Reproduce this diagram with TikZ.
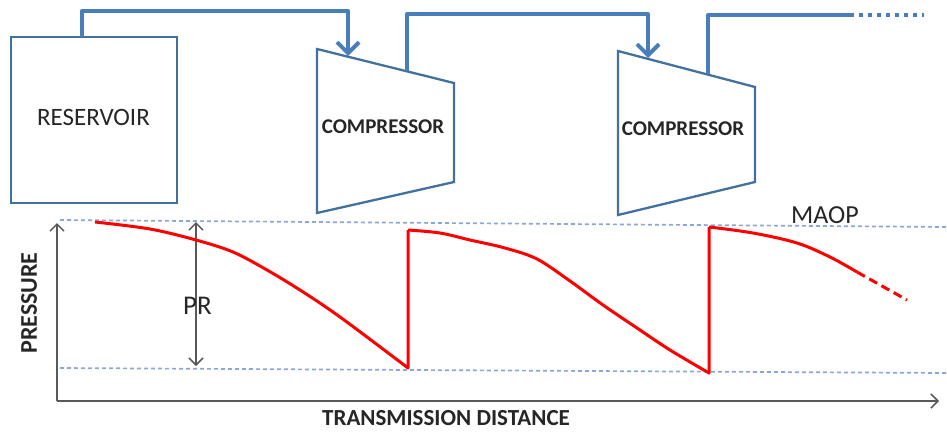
\documentclass[tikz,border=0pt]{standalone}
\usepackage{fontspec}
\setmainfont{Carlito}
\usetikzlibrary{arrows.meta}

\definecolor{pipe}{HTML}{4A7EBB}
\definecolor{outline}{HTML}{41719C}
\definecolor{guide}{HTML}{8AA8D6}
\definecolor{axisgray}{HTML}{595959}
\definecolor{labeltext}{HTML}{262626}

\begin{document}
\begin{tikzpicture}[x=1pt,y=-1pt,
  unitbox/.style={draw=outline, line width=2.3pt, line join=miter},
  pipeline/.style={draw=pipe, line width=4pt, line join=round},
  feed/.style={pipeline, -{Straight Barb[length=11pt,width=22pt]}},
  guideline/.style={draw=guide, line width=1.7pt, dash pattern=on 4pt off 3pt},
  axisline/.style={draw=axisgray, line width=1.5pt},
  openhead/.tip={Straight Barb[length=7pt,width=14pt]},
  profile/.style={draw=red, line width=3pt, line join=round},
  caption/.style={text=labeltext, inner sep=0pt, font=\fontsize{25}{30}\selectfont},
  boldcaption/.style={text=labeltext, inner sep=0pt, font=\fontsize{21}{24}\selectfont\bfseries},
]
\path[use as bounding box] (0,0) rectangle (947,432);

% reservoir
\node[unitbox, minimum width=166pt, minimum height=166pt, inner sep=0pt] (res) at (94,120) {};
\node[caption] (restext) at (93.5,117) {RESERVOIR};

% first compressor
\draw[unitbox] (317,49) -- (454,83) -- (454,182) -- (317,213) -- cycle;
\node[boldcaption] (comp1) at (383,127) {COMPRESSOR};

% second compressor
\draw[unitbox] (618,51) -- (755,87) -- (755,182) -- (618,215) -- cycle;
\node[boldcaption] (comp2) at (683,129) {COMPRESSOR};

% pipe connection points
\coordinate (res-out) at (82,37);
\coordinate (c1-in) at (348,56);
\coordinate (c1-out) at (407,71);
\coordinate (c2-in) at (648,58);
\coordinate (c2-out) at (708,74);
\coordinate (line-end) at (850,15);
\coordinate (line-more) at (924,15);

% pipeline runs
\draw[feed] (res-out) -- (82,11) -- (348,11) -- (c1-in);
\draw[feed] (c1-out) -- (407,14) -- (648,14) -- (c2-in);
\draw[pipeline] (c2-out) -- (708,15) -- (line-end);
\draw[pipeline, dash pattern=on 4pt off 5pt] (line-end) -- (line-more);

% pressure limits
\coordinate (maop-l) at (60,220);
\coordinate (maop-r) at (947,227);
\coordinate (min-l) at (60,368);
\coordinate (min-r) at (947,373);
\draw[guideline] (maop-l) -- (maop-r);
\draw[guideline] (min-l) -- (min-r);
\node[caption, font=\fontsize{26}{30}\selectfont] (maop) at (825,215) {MAOP};

% axes
\coordinate (origin) at (57,401);
\coordinate (ytop) at (57,223);
\coordinate (xend) at (939,401);
\draw[axisline, -openhead] (origin) -- (ytop);
\draw[axisline, -openhead] (origin) -- (xend);
\node[boldcaption, font=\fontsize{24}{28}\selectfont\bfseries, rotate=90] (ylabel) at (29,303) {PRESSURE};
\node[boldcaption, font=\fontsize{23}{28}\selectfont\bfseries] (xlabel) at (446,418) {TRANSMISSION DISTANCE};

% pressure range
\coordinate (pr-top) at (196,222);
\coordinate (pr-bot) at (196,366);
\draw[axisline, openhead-openhead] (pr-top) -- (pr-bot);
\node[caption, font=\fontsize{27}{30}\selectfont] (pr) at (197.5,306) {PR};

% pressure profile along the line
\draw[profile] plot[smooth, tension=0.55] coordinates
  {(95,222) (150,229) (196,240) (233,252) (267,270) (300,290) (333,312) (367,337) (408,368)}
  -- (408,230);
\draw[profile] plot[smooth, tension=0.55] coordinates
  {(408,230) (440,233) (470,240) (505,248) (537,259) (570,281) (603,305) (637,328) (670,350) (709,373)}
  -- (709,227);
\draw[profile] plot[smooth, tension=0.55] coordinates
  {(709,227) (753,233) (797,243) (830,257) (857,272)};
\draw[profile, dash pattern=on 9pt off 5pt] (857,272) -- (907,300);
\end{tikzpicture}
\end{document}
